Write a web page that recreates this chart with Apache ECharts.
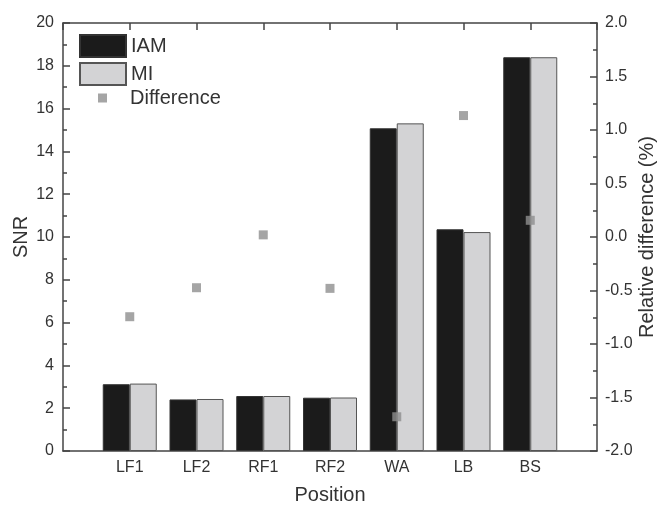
<!DOCTYPE html>
<html>
<head>
<meta charset="utf-8">
<script src="https://cdn.jsdelivr.net/npm/echarts@6/dist/echarts.min.js"></script>
<style>html,body{margin:0;padding:0;background:#fff}#c{width:660px;height:506px}</style>
</head>
<body>
<div id="c"></div>
<script>
const categories = ['', 'LF1', 'LF2', 'RF1', 'RF2', 'WA', 'LB', 'BS', ''];
const iam = ['-', 3.12, 2.41, 2.57, 2.49, 15.08, 10.36, 18.40, '-'];
const mi = ['-', 3.15, 2.43, 2.57, 2.50, 15.31, 10.23, 18.40, '-'];
const difference = ['-', -0.745, -0.474, 0.02, -0.48, -1.68, 1.135, 0.156, '-'];
const snrTicks = { min: 0, max: 20, interval: 2 };
const relTicks = { min: -2, max: 2, interval: 0.5 };

const font = 'Liberation Sans, Arial, sans-serif';
const txt = '#333';
const axisCol = '#444';
const chart = echarts.init(document.getElementById('c'));
chart.setOption({
  backgroundColor: '#fff',
  animation: false,
  textStyle: { fontFamily: font },
  grid: { left: 63, right: 63, top: 23, bottom: 55, containLabel: false, outerBoundsMode: 'none' },
  legend: [
    { data: [{ name: 'IAM', icon: 'rect' }, { name: 'MI', icon: 'rect' }], orient: 'vertical', left: 79, top: 34,
      padding: 0, itemWidth: 46, itemHeight: 22, itemGap: 4,
      textStyle: { fontSize: 20, lineHeight: 22, color: txt, fontFamily: font } },
    { data: [{ name: 'Difference', icon: 'rect' }], orient: 'vertical', left: 98, top: 87, padding: 0,
      itemWidth: 9, itemHeight: 9,
      textStyle: { fontSize: 20, lineHeight: 22, color: txt, fontFamily: font, padding: [0, 0, 0, 18] } }
  ],
  xAxis: [
    { type: 'category', data: categories, boundaryGap: false, position: 'bottom',
      axisLine: { onZero: false, lineStyle: { color: axisCol, width: 1.5 } },
      axisTick: { show: false },
      axisLabel: { interval: 0, fontSize: 16, color: txt, margin: 9, fontFamily: font },
      name: 'Position', nameLocation: 'middle', nameGap: 34,
      nameTextStyle: { fontSize: 20, color: txt, fontFamily: font } },
    { type: 'category', data: categories, boundaryGap: false, position: 'top',
      axisLine: { onZero: false, lineStyle: { color: axisCol, width: 1.5 } },
      axisTick: { show: true, inside: true, length: 7, interval: 0, lineStyle: { color: axisCol, width: 1.5 } },
      axisLabel: { show: false } }
  ],
  yAxis: [
    { type: 'value', min: snrTicks.min, max: snrTicks.max, interval: snrTicks.interval, position: 'left',
      axisLine: { show: true, onZero: false, lineStyle: { color: axisCol, width: 1.5 } },
      axisTick: { show: true, inside: true, length: 7, lineStyle: { color: axisCol, width: 1.5 } },
      minorTick: { show: true, splitNumber: 2, length: 4, lineStyle: { color: axisCol, width: 1.5 } },
      splitLine: { show: false },
      axisLabel: { fontSize: 16, color: txt, margin: 9, fontFamily: font },
      name: 'SNR', nameLocation: 'middle', nameGap: 32, nameRotate: 90, nameMoveOverlap: false,
      nameTextStyle: { fontSize: 20, color: txt, fontFamily: font } },
    { type: 'value', min: relTicks.min, max: relTicks.max, interval: relTicks.interval, position: 'right',
      axisLine: { show: true, onZero: false, lineStyle: { color: axisCol, width: 1.5 } },
      axisTick: { show: true, inside: true, length: 7, lineStyle: { color: axisCol, width: 1.5 } },
      minorTick: { show: true, splitNumber: 2, length: 4, lineStyle: { color: axisCol, width: 1.5 } },
      splitLine: { show: false },
      axisLabel: { fontSize: 16, color: txt, margin: 8, fontFamily: font, formatter: v => v.toFixed(1) },
      name: 'Relative difference (%)', nameLocation: 'middle', nameGap: 40, nameRotate: 90, nameMoveOverlap: false,
      nameTextStyle: { fontSize: 20, color: txt, fontFamily: font } }
  ],
  series: [
    { name: 'IAM', type: 'bar', xAxisIndex: 0, yAxisIndex: 0, data: iam, barWidth: 27, barGap: '0%',
      itemStyle: { color: '#1b1b1b', borderColor: '#333', borderWidth: 1 } },
    { name: 'MI', type: 'bar', xAxisIndex: 0, yAxisIndex: 0, data: mi, barWidth: 27, barGap: '0%',
      itemStyle: { color: '#d3d3d5', borderColor: '#555', borderWidth: 1 } },
    { name: 'Difference', type: 'scatter', xAxisIndex: 0, yAxisIndex: 1, data: difference,
      symbol: 'rect', symbolSize: 9, z: 5, itemStyle: { color: '#8e8e8e' } }
  ]
});
</script>
</body>
</html>
